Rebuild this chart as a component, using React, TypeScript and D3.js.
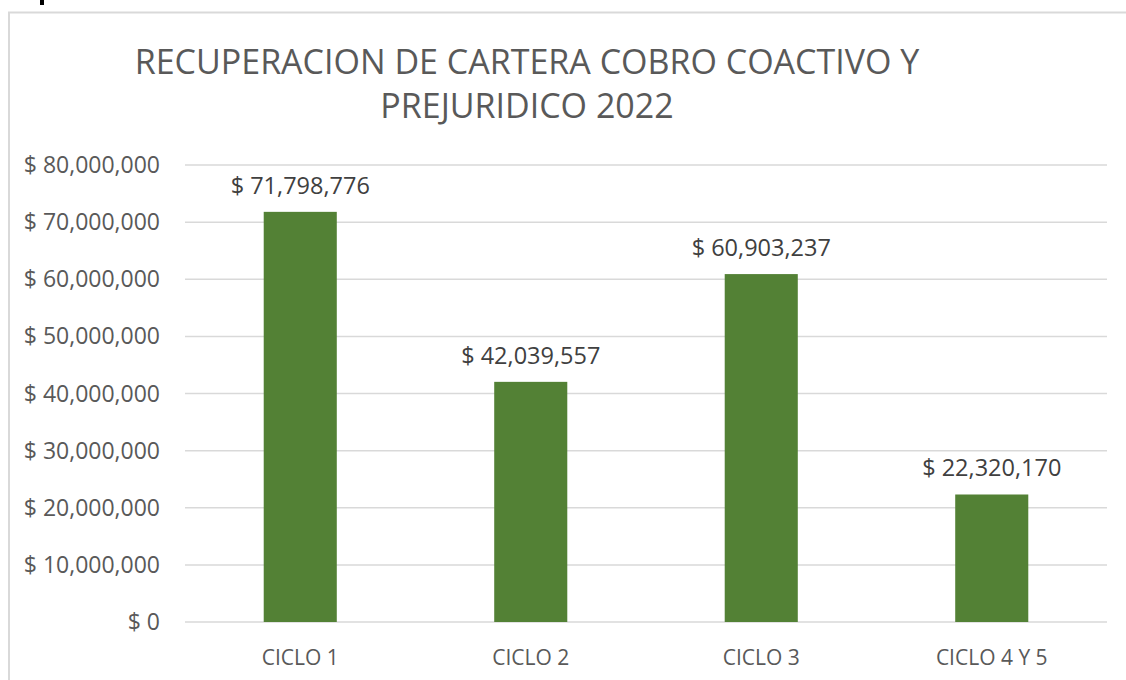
import React, { useEffect, useRef } from 'react';
import * as d3 from 'd3';

const categories = ['CICLO 1', 'CICLO 2', 'CICLO 3', 'CICLO 4 Y 5'];
const values = [71798776, 42039557, 60903237, 22320170];
const yTicks = [0, 10000000, 20000000, 30000000, 40000000, 50000000, 60000000, 70000000, 80000000];
const titleLines = ['RECUPERACION DE CARTERA COBRO COACTIVO Y', 'PREJURIDICO 2022'];

const fmt = (v: number) => '$ ' + d3.format(',')(v);

const App = () => {
    const ref = useRef<SVGSVGElement>(null);

    useEffect(() => {
        if (!ref.current) return;
        const svg = d3.select(ref.current);
        svg.selectAll('*').remove();

        const W = 1126, H = 680;
        const font = "'Open Sans', sans-serif";
        const left = 185, right = 1107, top = 165, bottom = 622;

        svg.attr('width', W).attr('height', H);
        svg.append('rect').attr('width', W).attr('height', H).attr('fill', '#fff');

        // fragment of text cut off at top of the page
        svg.append('rect').attr('x', 40).attr('y', 0).attr('width', 4).attr('height', 5).attr('fill', '#000');

        // chart border
        svg.append('path')
            .attr('d', `M9,${H} L9,12.5 L${W},12.5`)
            .attr('fill', 'none')
            .attr('stroke', '#d9d9d9')
            .attr('stroke-width', 2);

        // title
        svg.selectAll('.title')
            .data(titleLines)
            .enter().append('text')
            .attr('x', 527)
            .attr('y', (d, i) => 74 + i * 44)
            .attr('text-anchor', 'middle')
            .attr('font-family', font)
            .attr('font-size', 34)
            .attr('fill', '#595959')
            .text(d => d);

        const x = d3.scaleBand().domain(categories).range([left, right]).padding(0);
        const y = d3.scaleLinear().domain([0, 80000000]).range([bottom, top]);

        // gridlines
        svg.selectAll('.grid')
            .data(yTicks)
            .enter().append('line')
            .attr('x1', left).attr('x2', right)
            .attr('y1', d => y(d)).attr('y2', d => y(d))
            .attr('stroke', '#d9d9d9')
            .attr('stroke-width', 1.5);

        // y labels
        svg.selectAll('.ylab')
            .data(yTicks)
            .enter().append('text')
            .attr('x', 160)
            .attr('y', d => y(d) + 8)
            .attr('text-anchor', 'end')
            .attr('font-family', font)
            .attr('font-size', 23)
            .attr('fill', '#595959')
            .text(d => fmt(d));

        const bw = x.bandwidth() * 0.317;

        svg.selectAll('.bar')
            .data(values)
            .enter().append('rect')
            .attr('x', (d, i) => x(categories[i])! + (x.bandwidth() - bw) / 2)
            .attr('y', d => y(d))
            .attr('width', bw)
            .attr('height', d => y(0) - y(d))
            .attr('fill', '#538135');

        // data labels
        svg.selectAll('.dlab')
            .data(values)
            .enter().append('text')
            .attr('x', (d, i) => x(categories[i])! + x.bandwidth() / 2)
            .attr('y', d => y(d) - 18)
            .attr('text-anchor', 'middle')
            .attr('font-family', font)
            .attr('font-size', 23.5)
            .attr('fill', '#404040')
            .text(d => fmt(d));

        // category labels
        svg.selectAll('.xlab')
            .data(categories)
            .enter().append('text')
            .attr('x', d => x(d)! + x.bandwidth() / 2)
            .attr('y', 665)
            .attr('text-anchor', 'middle')
            .attr('font-family', font)
            .attr('font-size', 21)
            .attr('fill', '#595959')
            .text(d => d);
    }, []);

    return <svg ref={ref} style={{ position: 'absolute', left: 0, top: 0 }} />;
};

export default App;
